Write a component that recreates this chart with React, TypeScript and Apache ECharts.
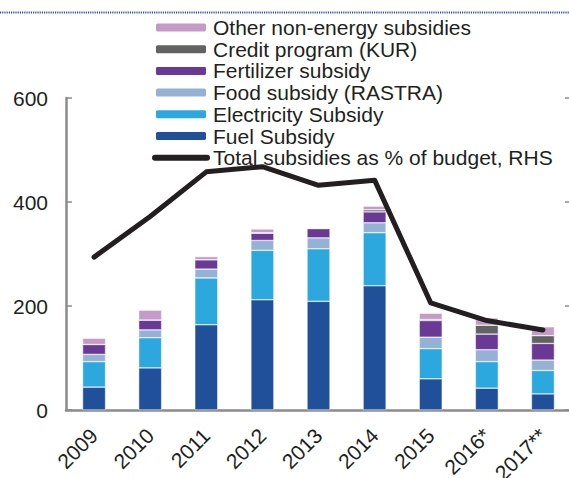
import React, { useEffect, useRef } from "react";
import * as echarts from "echarts";

const categories = ["2009", "2010", "2011", "2012", "2013", "2014", "2015", "2016*", "2017**"];
const fuelSubsidy = [44, 81, 164, 212, 209, 239, 60, 42, 31];
const electricitySubsidy = [49, 58, 90, 95, 101, 102, 58, 51, 45];
const foodSubsidy = [14, 15, 17, 19, 21, 19, 22, 23, 20];
const fertilizerSubsidy = [19, 19, 18, 14, 18, 21, 32, 30, 32];
const creditProgram = [0, 0, 0, 1, 0, 4, 2, 17, 15];
const otherSubsidies = [12, 19, 6, 7, 0, 7, 12, 14, 17];
const totalPctBudget = [14.7, 18.6, 22.9, 23.4, 21.6, 22.1, 10.3, 8.6, 7.7];
const leftTicks = { min: 0, max: 600, interval: 200 };
const rightTicks = { min: 0, max: 30, interval: 10 };

const FONT = "'Liberation Sans', Arial, sans-serif";
const TXT = "#231f20";
const AX = "#8b8b8f";

export default function App() {
  const ref = useRef<HTMLDivElement>(null);
  useEffect(() => {
    if (!ref.current) return;
    const chart = echarts.init(ref.current, undefined, { renderer: "svg" });
    const bar = (name: string, data: number[], color: string) => ({
      name,
      type: "bar",
      stack: "s",
      data,
      barWidth: 23,
      itemStyle: { color, borderColor: "#ffffff", borderWidth: 0.5 },
    });
    chart.setOption({
      animation: false,
      textStyle: { fontFamily: FONT },
      grid: { left: 66, right: -2, top: 98, bottom: 68, containLabel: false, outerBoundsMode: "none" },
      legend: {
        orient: "vertical",
        left: 152,
        top: 17,
        padding: 0,
        itemWidth: 52,
        itemHeight: 10,
        itemGap: 0.7,
        textStyle: { fontFamily: FONT, fontSize: 21, color: TXT, lineHeight: 20, padding: [0, 0, 0, 1] },
        data: [
          { name: "Other non-energy subsidies" },
          { name: "Credit program (KUR)" },
          { name: "Fertilizer subsidy" },
          { name: "Food subsidy (RASTRA)" },
          { name: "Electricity Subsidy" },
          { name: "Fuel Subsidy" },
          {
            name: "Total subsidies as % of budget, RHS",
            itemStyle: { opacity: 0 },
            lineStyle: { width: 6, color: TXT, cap: "round" },
          },
        ],
      },
      graphic: [
        {
          type: "line",
          shape: { x1: 0, y1: 12.5, x2: 569, y2: 12.5 },
          style: { stroke: "#34559f", lineWidth: 2, lineDash: [1.2, 1] },
        },
      ],
      xAxis: {
        type: "category",
        data: categories,
        axisLine: { lineStyle: { color: AX, width: 2.5 } },
        axisTick: { inside: true, length: 5, lineStyle: { color: AX, width: 1.5 } },
        axisLabel: { rotate: 45, fontSize: 21, color: TXT, fontFamily: FONT, margin: 22 },
      },
      yAxis: [
        {
          type: "value",
          ...leftTicks,
          splitLine: { show: false },
          axisLine: { show: true, lineStyle: { color: AX, width: 2.5 } },
          axisTick: { show: true, inside: true, length: 6, lineStyle: { color: AX, width: 1.5 } },
          axisLabel: { fontSize: 21, color: TXT, fontFamily: FONT, margin: 18 },
        },
        {
          type: "value",
          ...rightTicks,
          position: "right",
          splitLine: { show: false },
          axisLine: { show: true, lineStyle: { color: AX, width: 2.5 } },
          axisTick: { show: true, inside: true, length: 6, lineStyle: { color: AX, width: 1.5 } },
          axisLabel: { show: false },
        },
      ],
      series: [
        bar("Fuel Subsidy", fuelSubsidy, "#21509a"),
        bar("Electricity Subsidy", electricitySubsidy, "#2ca8df"),
        bar("Food subsidy (RASTRA)", foodSubsidy, "#95b1d6"),
        bar("Fertilizer subsidy", fertilizerSubsidy, "#6a3995"),
        bar("Credit program (KUR)", creditProgram, "#626262"),
        bar("Other non-energy subsidies", otherSubsidies, "#c49ac7"),
        {
          name: "Total subsidies as % of budget, RHS",
          type: "line",
          yAxisIndex: 1,
          data: totalPctBudget,
          symbol: "none",
          z: 10,
          color: TXT,
          lineStyle: { color: TXT, width: 5, cap: "round", join: "round" },
        },
      ],
    });
    return () => chart.dispose();
  }, []);
  return (
    <div
      ref={ref}
      style={{ position: "absolute", left: 0, top: 0, width: 569, height: 478, background: "#fff" }}
    />
  );
}
